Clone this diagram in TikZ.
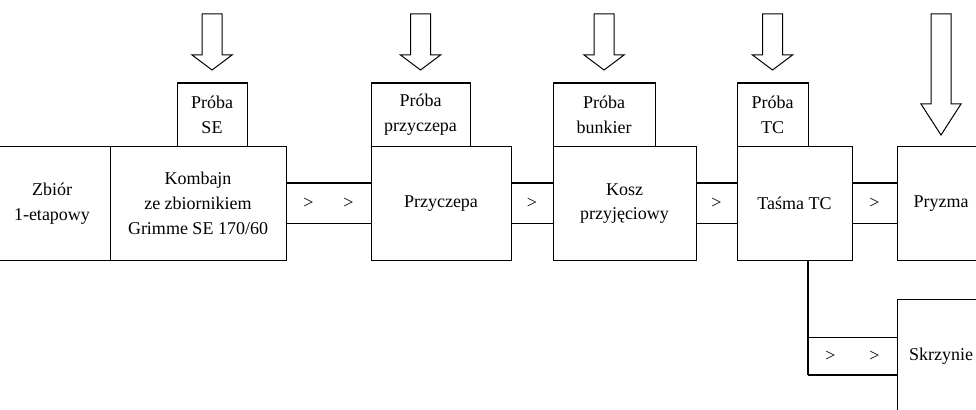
\documentclass[tikz,border=0pt]{standalone}
\usepackage{fontspec}
\setmainfont{Liberation Serif}
\usetikzlibrary{calc,positioning}

\begin{document}
\begin{tikzpicture}[x=0.75pt,y=0.75pt]
	\tikzstyle{every node}+=[inner sep=0pt,outer sep=0pt,align=center,font=\fontsize{13.5}{18.5}\selectfont]
	\tikzstyle{box}=[draw,line width=0.75pt,minimum height=84.75pt]
	\tikzstyle{probe}=[draw,line width=0.75pt,minimum height=48pt]
	\tikzstyle{channel}=[draw,line width=0.75pt,minimum height=30pt]
	\tikzstyle{heavy}=[line width=1.5pt]
	\tikzstyle{hollow}=[draw,line width=0.75pt,line join=miter]
	\useasboundingbox (0,0) rectangle (976,-410);
	% main line
	\node [box,minimum width=87pt] (zbior) at (52,-203.5) {Zbiór\\1-etapowy};
	\node [box,minimum width=132pt,right=0pt of zbior] (kombajn) {Kombajn\\ze zbiornikiem\\Grimme SE 170/60};
	\node [channel,minimum width=63.75pt,right=0pt of kombajn] (ch1) {>\hspace{22.5pt}>};
	\node [box,minimum width=105pt,right=0pt of ch1] (przyczepa) {Przyczepa};
	\node [channel,minimum width=31.5pt,right=0pt of przyczepa] (ch2) {>};
	\node [box,minimum width=107.25pt,right=0pt of ch2] (kosz) {Kosz\\przyjęciowy};
	\node [channel,minimum width=30.75pt,right=0pt of kosz] (ch3) {>};
	\node [box,minimum width=86.25pt,right=0pt of ch3] (tasma) {Taśma TC};
	\node [channel,minimum width=33.75pt,right=0pt of tasma] (ch4) {>};
	\node [box,minimum width=66pt,right=0pt of ch4] (pryzma) {Pryzma};
	% branch
	\node [box,minimum width=66pt,minimum height=85.5pt,below=29.25pt of pryzma] (skrzynie) {Skrzynie};
	\node [channel,minimum width=66.75pt,minimum height=28.5pt,left=0pt of skrzynie] (ch5) {>\hspace{25.5pt}>};
	\draw [heavy] (ch5.north west |- tasma.south) -- (ch5.south west);
	\draw [heavy] (ch5.south west) -- (ch5.south east);
	% samples
	\node [probe,minimum width=52.5pt,above right=0pt and 50.25pt of kombajn.north west] (probaSE) {Próba\\SE};
	\node [probe,minimum width=74.25pt,above right=0pt and 0pt of przyczepa.north west] (probaP) {Próba\\przyczepa};
	\node [probe,minimum width=76.5pt,above right=0pt and 0pt of kosz.north west] (probaB) {Próba\\bunkier};
	\node [probe,minimum width=53.25pt,above right=0pt and 0pt of tasma.north west] (probaTC) {Próba\\TC};
	\foreach \n in {probaSE,probaP,probaB,probaTC}
		\draw [heavy] (\n.north west) -- (\n.north east);
	\foreach \n in {ch1,ch2,ch3,ch4}
		\draw [heavy] (\n.north west) -- (\n.north east);
	% arrows
	\foreach \n in {probaSE,probaP,probaB,probaTC}
		\draw [hollow] ($(\n.north)+(0,13)$) -- ++(-20,15) -- ++(10,0) -- ++(0,41) -- ++(20,0) -- ++(0,-41) -- ++(10,0) -- cycle;
	\draw [hollow] ($(pryzma.north)+(0,12)$) -- ++(-20,31) -- ++(10,0) -- ++(0,90) -- ++(20,0) -- ++(0,-90) -- ++(10,0) -- cycle;
\end{tikzpicture}
\end{document}
